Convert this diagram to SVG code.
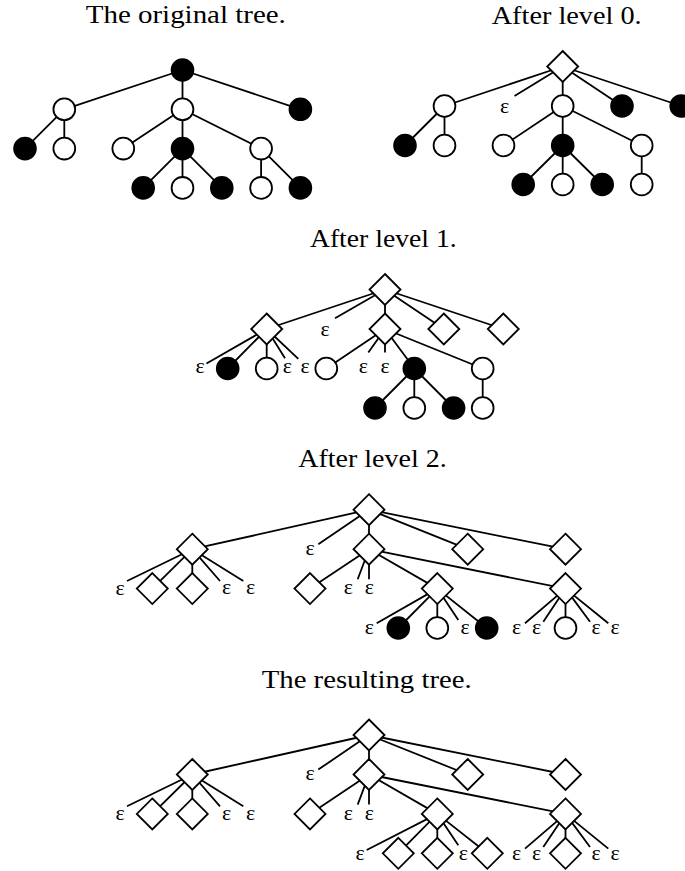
<svg xmlns="http://www.w3.org/2000/svg" xmlns:xlink="http://www.w3.org/1999/xlink" width="685" height="871" viewBox="0 0 685 871">
<style>
.t{font-family:"Liberation Serif",serif;font-size:25px;fill:#000;text-anchor:middle}
.e{font-family:"Liberation Serif",serif;font-size:22px;fill:#000;text-anchor:middle}
.w{fill:#fff;stroke:#000;stroke-width:1.8}
.b{fill:#000;stroke:#000;stroke-width:1.8}
.d{fill:#fff;stroke:#000;stroke-width:1.8;stroke-linejoin:miter}
.c{stroke:#000;stroke-width:1.8;fill:none}
</style>
<defs>
<path id="dia" d="M0,-15.5 L15.5,0 L0,15.5 L-15.5,0 Z"/>
</defs>
<rect width="685" height="871" fill="#fff"/>
<g id="titles">
<text class="t" x="185.8" y="23" textLength="200" lengthAdjust="spacingAndGlyphs">The original tree.</text>
<text class="t" x="566.7" y="24" textLength="150" lengthAdjust="spacingAndGlyphs">After level 0.</text>
<text class="t" x="383.3" y="246.7" textLength="146.7" lengthAdjust="spacingAndGlyphs">After level 1.</text>
<text class="t" x="372.5" y="467" textLength="148.4" lengthAdjust="spacingAndGlyphs">After level 2.</text>
<text class="t" x="366.7" y="688" textLength="210" lengthAdjust="spacingAndGlyphs">The resulting tree.</text>
</g>
<g id="connectors" class="c">
<!-- panel 1 -->
<path d="M182.5,70 L64.3,109.3 M182.5,70 L182.5,109.3 M182.5,70 L300.4,109.3 M64.3,109.3 L25,148.6 M64.3,109.3 L64.3,148.6 M182.5,109.3 L123.3,148.6 M182.5,109.3 L182.5,148.6 M182.5,109.3 L261.1,148.6 M182.5,148.6 L143.2,187.9 M182.5,148.6 L182.5,187.9 M182.5,148.6 L221.8,187.9 M261.1,148.6 L261.1,187.9 M261.1,148.6 L300.4,187.9"/>
<!-- panel 2 -->
<path d="M562.7,66.5 L444.5,106 M562.7,66.5 L514.5,96 M562.7,66.5 L562.7,106 M562.7,66.5 L622,106 M562.7,66.5 L681.2,106 M444.5,106 L405,145.5 M444.5,106 L444.5,145.5 M562.7,106 L503.5,145.5 M562.7,106 L562.7,145.5 M562.7,106 L641.7,145.5 M562.7,145.5 L523.2,184.5 M562.7,145.5 L562.7,184.5 M562.7,145.5 L602.2,184.5 M641.7,145.5 L641.7,184.5"/>
<!-- panel 3 -->
<path d="M385,289.5 L266.7,329 M385,289.5 L335,318.3 M385,289.5 L385,329 M385,289.5 L443.8,329 M385,289.5 L503.3,329 M266.7,329 L206.5,363.5 M266.7,329 L227.7,368.5 M266.7,329 L266.7,368.5 M266.7,329 L285,358.3 M266.7,329 L298.3,358.8 M385,329 L326.3,368.5 M385,329 L368.3,352.5 M385,329 L385,352.5 M385,329 L414.3,368.5 M385,329 L482.7,368.5 M414.3,368.5 L375,408 M414.3,368.5 L414.3,408 M414.3,368.5 L453.6,408 M482.7,368.5 L482.7,408"/>
<!-- panel 4 -->
<path d="M369,509.7 L192.3,549.2 M369,509.7 L318.3,544.3 M369,509.7 L369,549.2 M369,509.7 L467.7,549.2 M369,509.7 L565.5,549.2 M192.3,549.2 L127,581 M192.3,549.2 L152.3,588.6 M192.3,549.2 L192.3,588.6 M192.3,549.2 L220,581 M192.3,549.2 L243.3,581 M369,549.2 L310,588.6 M369,549.2 L357.7,579.3 M369,549.2 L369,579.3 M369,549.2 L437.3,588.6 M369,549.2 L565.5,588.6 M437.3,588.6 L376.7,623.3 M437.3,588.6 L398.3,628 M437.3,588.6 L437.3,628 M437.3,588.6 L458.3,620 M437.3,588.6 L486.7,628 M565.5,588.6 L525,623.3 M565.5,588.6 L543.3,621.7 M565.5,588.6 L565.5,628 M565.5,588.6 L590,621.7 M565.5,588.6 L608.3,623.3"/>
<!-- panel 5 -->
<path d="M369,735 L192.3,774.5 M369,735 L318.3,769.6 M369,735 L369,774.5 M369,735 L467.7,774.5 M369,735 L565.5,774.5 M192.3,774.5 L127,806.3 M192.3,774.5 L152.3,813.9 M192.3,774.5 L192.3,813.9 M192.3,774.5 L220,806.3 M192.3,774.5 L243.3,806.3 M369,774.5 L310,813.9 M369,774.5 L357.7,804.6 M369,774.5 L369,804.6 M369,774.5 L437.3,813.9 M369,774.5 L565.5,813.9 M437.3,813.9 L366.7,850 M437.3,813.9 L398.3,853.3 M437.3,813.9 L437.3,853.3 M437.3,813.9 L458.3,845.3 M437.3,813.9 L487.3,853.3 M565.5,813.9 L525,848.6 M565.5,813.9 L543.3,847 M565.5,813.9 L565.5,853.3 M565.5,813.9 L590,847 M565.5,813.9 L608.3,848.6"/>
</g>
<g id="panel1">
<g id="p1-n0"><circle class="b" cx="182.5" cy="70" r="10.9"/></g>
<g id="p1-n1"><circle class="w" cx="64.3" cy="109.3" r="10.9"/></g>
<g id="p1-n2"><circle class="w" cx="182.5" cy="109.3" r="10.9"/></g>
<g id="p1-n3"><circle class="b" cx="300.4" cy="109.3" r="10.9"/></g>
<g id="p1-n4"><circle class="b" cx="25" cy="148.6" r="10.9"/></g>
<g id="p1-n5"><circle class="w" cx="64.3" cy="148.6" r="10.9"/></g>
<g id="p1-n6"><circle class="w" cx="123.3" cy="148.6" r="10.9"/></g>
<g id="p1-n7"><circle class="b" cx="182.5" cy="148.6" r="10.9"/></g>
<g id="p1-n8"><circle class="w" cx="261.1" cy="148.6" r="10.9"/></g>
<g id="p1-n9"><circle class="b" cx="143.2" cy="187.9" r="10.9"/></g>
<g id="p1-n10"><circle class="w" cx="182.5" cy="187.9" r="10.9"/></g>
<g id="p1-n11"><circle class="b" cx="221.8" cy="187.9" r="10.9"/></g>
<g id="p1-n12"><circle class="w" cx="261.1" cy="187.9" r="10.9"/></g>
<g id="p1-n13"><circle class="b" cx="300.4" cy="187.9" r="10.9"/></g>
</g>
<g id="panel2">
<g id="p2-n0"><use class="d" href="#dia" xlink:href="#dia" x="562.7" y="66.5"/></g>
<g id="p2-n1"><circle class="w" cx="444.5" cy="106" r="10.9"/></g>
<g id="p2-e1"><text class="e" x="504.7" y="113.3">ε</text></g>
<g id="p2-n2"><circle class="w" cx="562.7" cy="106" r="10.9"/></g>
<g id="p2-n3"><circle class="b" cx="622" cy="106" r="10.9"/></g>
<g id="p2-n4"><circle class="b" cx="681.2" cy="106" r="10.9"/></g>
<g id="p2-n5"><circle class="b" cx="405" cy="145.5" r="10.9"/></g>
<g id="p2-n6"><circle class="w" cx="444.5" cy="145.5" r="10.9"/></g>
<g id="p2-n7"><circle class="w" cx="503.5" cy="145.5" r="10.9"/></g>
<g id="p2-n8"><circle class="b" cx="562.7" cy="145.5" r="10.9"/></g>
<g id="p2-n9"><circle class="w" cx="641.7" cy="145.5" r="10.9"/></g>
<g id="p2-n10"><circle class="b" cx="523.2" cy="184.5" r="10.9"/></g>
<g id="p2-n11"><circle class="w" cx="562.7" cy="184.5" r="10.9"/></g>
<g id="p2-n12"><circle class="b" cx="602.2" cy="184.5" r="10.9"/></g>
<g id="p2-n13"><circle class="w" cx="641.7" cy="184.5" r="10.9"/></g>
</g>
<g id="panel3">
<g id="p3-n0"><use class="d" href="#dia" xlink:href="#dia" x="385" y="289.5"/></g>
<g id="p3-n1"><use class="d" href="#dia" xlink:href="#dia" x="266.7" y="329"/></g>
<g id="p3-e1"><text class="e" x="325" y="335.5">ε</text></g>
<g id="p3-n2"><use class="d" href="#dia" xlink:href="#dia" x="385" y="329"/></g>
<g id="p3-n3"><use class="d" href="#dia" xlink:href="#dia" x="443.8" y="329"/></g>
<g id="p3-n4"><use class="d" href="#dia" xlink:href="#dia" x="503.3" y="329"/></g>
<g id="p3-e2"><text class="e" x="200" y="373.3">ε</text></g>
<g id="p3-n5"><circle class="b" cx="227.7" cy="368.5" r="10.9"/></g>
<g id="p3-n6"><circle class="w" cx="266.7" cy="368.5" r="10.9"/></g>
<g id="p3-e3"><text class="e" x="287.3" y="373.3">ε</text></g>
<g id="p3-e4"><text class="e" x="305" y="373.3">ε</text></g>
<g id="p3-n7"><circle class="w" cx="326.3" cy="368.5" r="10.9"/></g>
<g id="p3-e5"><text class="e" x="363.3" y="373">ε</text></g>
<g id="p3-e6"><text class="e" x="385" y="373">ε</text></g>
<g id="p3-n8"><circle class="b" cx="414.3" cy="368.5" r="10.9"/></g>
<g id="p3-n9"><circle class="w" cx="482.7" cy="368.5" r="10.9"/></g>
<g id="p3-n10"><circle class="b" cx="375" cy="408" r="10.9"/></g>
<g id="p3-n11"><circle class="w" cx="414.3" cy="408" r="10.9"/></g>
<g id="p3-n12"><circle class="b" cx="453.6" cy="408" r="10.9"/></g>
<g id="p3-n13"><circle class="w" cx="482.7" cy="408" r="10.9"/></g>
</g>
<g id="panel4">
<g id="p4-n0"><use class="d" href="#dia" xlink:href="#dia" x="369" y="509.7"/></g>
<g id="p4-n1"><use class="d" href="#dia" xlink:href="#dia" x="192.3" y="549.2"/></g>
<g id="p4-e1"><text class="e" x="310" y="555">ε</text></g>
<g id="p4-n2"><use class="d" href="#dia" xlink:href="#dia" x="369" y="549.2"/></g>
<g id="p4-n3"><use class="d" href="#dia" xlink:href="#dia" x="467.7" y="549.2"/></g>
<g id="p4-n4"><use class="d" href="#dia" xlink:href="#dia" x="565.5" y="549.2"/></g>
<g id="p4-e2"><text class="e" x="120" y="594.5">ε</text></g>
<g id="p4-n5"><use class="d" href="#dia" xlink:href="#dia" x="152.3" y="588.6"/></g>
<g id="p4-n6"><use class="d" href="#dia" xlink:href="#dia" x="192.3" y="588.6"/></g>
<g id="p4-e3"><text class="e" x="226.7" y="594.3">ε</text></g>
<g id="p4-e4"><text class="e" x="250.7" y="594.3">ε</text></g>
<g id="p4-n7"><use class="d" href="#dia" xlink:href="#dia" x="310" y="588.6"/></g>
<g id="p4-e5"><text class="e" x="348.3" y="594.3">ε</text></g>
<g id="p4-e6"><text class="e" x="369.3" y="594.3">ε</text></g>
<g id="p4-n8"><use class="d" href="#dia" xlink:href="#dia" x="437.3" y="588.6"/></g>
<g id="p4-n9"><use class="d" href="#dia" xlink:href="#dia" x="565.5" y="588.6"/></g>
<g id="p4-e7"><text class="e" x="369.3" y="634.3">ε</text></g>
<g id="p4-n10"><circle class="b" cx="398.3" cy="628" r="10.9"/></g>
<g id="p4-n11"><circle class="w" cx="437.3" cy="628" r="10.9"/></g>
<g id="p4-e8"><text class="e" x="465" y="634.3">ε</text></g>
<g id="p4-n12"><circle class="b" cx="486.7" cy="628" r="10.9"/></g>
<g id="p4-e9"><text class="e" x="516.7" y="634.3">ε</text></g>
<g id="p4-e10"><text class="e" x="536.7" y="634.3">ε</text></g>
<g id="p4-n13"><circle class="w" cx="565.5" cy="628" r="10.9"/></g>
<g id="p4-e11"><text class="e" x="596" y="634.3">ε</text></g>
<g id="p4-e12"><text class="e" x="615" y="634.3">ε</text></g>
</g>
<g id="panel5">
<g id="p5-n0"><use class="d" href="#dia" xlink:href="#dia" x="369" y="735"/></g>
<g id="p5-n1"><use class="d" href="#dia" xlink:href="#dia" x="192.3" y="774.5"/></g>
<g id="p5-e1"><text class="e" x="310" y="780.3">ε</text></g>
<g id="p5-n2"><use class="d" href="#dia" xlink:href="#dia" x="369" y="774.5"/></g>
<g id="p5-n3"><use class="d" href="#dia" xlink:href="#dia" x="467.7" y="774.5"/></g>
<g id="p5-n4"><use class="d" href="#dia" xlink:href="#dia" x="565.5" y="774.5"/></g>
<g id="p5-e2"><text class="e" x="120" y="819.8">ε</text></g>
<g id="p5-n5"><use class="d" href="#dia" xlink:href="#dia" x="152.3" y="813.9"/></g>
<g id="p5-n6"><use class="d" href="#dia" xlink:href="#dia" x="192.3" y="813.9"/></g>
<g id="p5-e3"><text class="e" x="226.7" y="819.6">ε</text></g>
<g id="p5-e4"><text class="e" x="250.7" y="819.6">ε</text></g>
<g id="p5-n7"><use class="d" href="#dia" xlink:href="#dia" x="310" y="813.9"/></g>
<g id="p5-e5"><text class="e" x="348.3" y="819.6">ε</text></g>
<g id="p5-e6"><text class="e" x="369.3" y="819.6">ε</text></g>
<g id="p5-n8"><use class="d" href="#dia" xlink:href="#dia" x="437.3" y="813.9"/></g>
<g id="p5-n9"><use class="d" href="#dia" xlink:href="#dia" x="565.5" y="813.9"/></g>
<g id="p5-e7"><text class="e" x="360" y="859.6">ε</text></g>
<g id="p5-n10"><use class="d" href="#dia" xlink:href="#dia" x="398.3" y="853.3"/></g>
<g id="p5-n11"><use class="d" href="#dia" xlink:href="#dia" x="437.3" y="853.3"/></g>
<g id="p5-e8"><text class="e" x="463.3" y="859.6">ε</text></g>
<g id="p5-n12"><use class="d" href="#dia" xlink:href="#dia" x="487.3" y="853.3"/></g>
<g id="p5-e9"><text class="e" x="516.7" y="859.6">ε</text></g>
<g id="p5-e10"><text class="e" x="536.7" y="859.6">ε</text></g>
<g id="p5-n13"><use class="d" href="#dia" xlink:href="#dia" x="565.5" y="853.3"/></g>
<g id="p5-e11"><text class="e" x="596" y="859.6">ε</text></g>
<g id="p5-e12"><text class="e" x="615" y="859.6">ε</text></g>
</g>
</svg>
